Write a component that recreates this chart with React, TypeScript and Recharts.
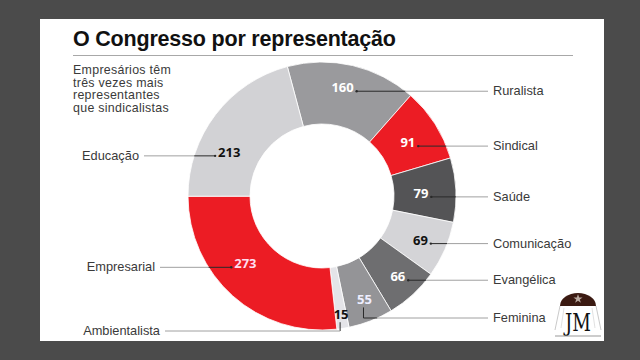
import { PieChart, Pie, Cell } from "recharts";

// Bancadas no Congresso (número de parlamentares)
const categories = [
  "Ruralista",
  "Sindical",
  "Saúde",
  "Comunicação",
  "Evangélica",
  "Feminina",
  "Ambientalista",
  "Empresarial",
  "Educação",
];
const members = [160, 91, 79, 69, 66, 55, 15, 273, 213];

const sliceColors = [
  "#9a9a9d",
  "#ec1c24",
  "#545456",
  "#d4d4d7",
  "#6e6e70",
  "#949497",
  "#e4e4e8",
  "#ec1c24",
  "#d2d2d5",
];
const valueColors = ["#fff", "#fff", "#fff", "#111", "#fff", "#eef", "#111", "#fde", "#111"];

const data = categories.map((name, i) => ({ name, value: members[i] }));

// where each annotation sits relative to its slice centre
type Note = { dx: number; dy: number; side: "left" | "right"; drop?: number; lineFrom?: number };
const notes: Record<string, Note> = {
  Ruralista: { dx: -3, dy: -8, side: "right" },
  Sindical: { dx: -1, dy: 2, side: "right" },
  Saúde: { dx: -4, dy: 2, side: "right" },
  Comunicação: { dx: 4, dy: 3, side: "right" },
  Evangélica: { dx: 6, dy: 5, side: "right" },
  Feminina: { dx: 5, dy: 8, side: "right", drop: 318 },
  Ambientalista: { dx: 3, dy: 17, side: "left", drop: 331, lineFrom: 165 },
  Empresarial: { dx: -8, dy: -9, side: "left", lineFrom: 160 },
  Educação: { dx: -11, dy: 19, side: "left", lineFrom: 144 },
};

const CX = 322;
const CY = 196;
const OUTER = 134;
const INNER = 72;
const RIGHT_END = 488;
const RADIAN = Math.PI / 180;
const DARK = "#2a2a2a";
const GREY = "#a0a0a0";
const labelFont = "'Liberation Sans', Arial, sans-serif";

// split a horizontal leader into the part inside the ring (dark) and outside (grey)
function hLine(x1: number, x2: number, y: number, key: string) {
  const a = Math.min(x1, x2);
  const b = Math.max(x1, x2);
  const dy = y - CY;
  if (Math.abs(dy) >= OUTER) {
    return <line key={key} x1={a} x2={b} y1={y} y2={y} stroke={GREY} strokeWidth={1} />;
  }
  const half = Math.sqrt(OUTER * OUTER - dy * dy);
  const l = CX - half;
  const r = CX + half;
  const segs: JSX.Element[] = [];
  const push = (s: number, e: number, c: string, k: string) => {
    if (e > s) segs.push(<line key={key + k} x1={s} x2={e} y1={y} y2={y} stroke={c} strokeWidth={1} />);
  };
  push(a, Math.min(b, l), GREY, "a");
  push(Math.max(a, l), Math.min(b, r), DARK, "b");
  push(Math.max(a, r), b, GREY, "c");
  return <g key={key}>{segs}</g>;
}

function renderNote(props: any) {
  const { cx, cy, midAngle, innerRadius, outerRadius, index } = props;
  const name = categories[index];
  const value = members[index];
  const n = notes[name];
  const r = (innerRadius + outerRadius) / 2;
  const x = cx + r * Math.cos(-midAngle * RADIAN) + n.dx;
  const y = cy + r * Math.sin(-midAngle * RADIAN) + n.dy;
  const base = y + 4.5;
  const halfW = (String(value).length * 7.4) / 2;
  const parts: JSX.Element[] = [];

  if (n.drop !== undefined) {
    const vx = x - 1;
    const inside = Math.hypot(vx - cx, base + 3 - cy) < outerRadius;
    parts.push(
      <line key="v" x1={vx} x2={vx} y1={base + 3} y2={n.drop} stroke={inside ? DARK : GREY} strokeWidth={1} />
    );
    if (n.side === "right") {
      parts.push(hLine(vx, RIGHT_END, n.drop, "h"));
      parts.push(
        <text key="t" x={RIGHT_END + 5} y={n.drop + 4} fontSize={12.8} fill="#3a3a3a" fontFamily={labelFont}>
          {name}
        </text>
      );
    } else {
      parts.push(hLine(n.lineFrom ?? 165, vx, n.drop, "h"));
      parts.push(
        <text key="t" x={(n.lineFrom ?? 165) - 5} y={n.drop + 4} fontSize={12.8} fill="#3a3a3a" textAnchor="end" fontFamily={labelFont}>
          {name}
        </text>
      );
    }
  } else if (n.side === "right") {
    const dot = x + halfW + 3;
    const ly = base - 1;
    parts.push(<circle key="d" cx={dot} cy={ly} r={1.2} fill={DARK} />);
    parts.push(hLine(dot, RIGHT_END, ly, "h"));
    parts.push(
      <text key="t" x={RIGHT_END + 5} y={ly + 4} fontSize={12.8} fill="#3a3a3a" fontFamily={labelFont}>
        {name}
      </text>
    );
  } else {
    const dot = x - halfW - 3;
    const ly = base - 1;
    const from = n.lineFrom ?? 160;
    parts.push(<circle key="d" cx={dot} cy={ly} r={1.2} fill={DARK} />);
    parts.push(hLine(from, dot, ly, "h"));
    parts.push(
      <text key="t" x={from - 5} y={ly + 4} fontSize={12.8} fill="#3a3a3a" textAnchor="end" fontFamily={labelFont}>
        {name}
      </text>
    );
  }

  return (
    <g key={`note-${index}`}>
      {parts}
      <text
        x={x}
        y={base}
        textAnchor="middle"
        fontSize={13}
        fontWeight={700}
        fill={valueColors[index]}
        fontFamily="'Open Sans', 'DejaVu Sans', sans-serif"
      >
        {value}
      </text>
    </g>
  );
}

export default function App() {
  return (
    <div style={{ position: "fixed", left: 0, top: 0, width: 640, height: 360, background: "#4b4b4b", overflow: "hidden" }}>
      <div style={{ position: "absolute", left: 40, top: 19, width: 564, height: 322, background: "#fff" }} />
      <div
        style={{
          position: "absolute",
          left: 73,
          top: 26,
          fontFamily: "'Liberation Sans', Arial, sans-serif",
          fontWeight: 700,
          fontSize: 21.5,
          lineHeight: "26px",
          color: "#111",
          whiteSpace: "nowrap",
          letterSpacing: -0.2,
        }}
      >
        O Congresso por representação
      </div>
      <div style={{ position: "absolute", left: 73, top: 55, width: 500, height: 1, background: "#a8a8a8" }} />
      <div
        style={{
          position: "absolute",
          left: 73,
          top: 64,
          fontFamily: labelFont,
          fontSize: 12.4,
          lineHeight: "12.6px",
          letterSpacing: 0.3,
          color: "#3a3a3a",
        }}
      >
        Empresários têm
        <br />
        três vezes mais
        <br />
        representantes
        <br />
        que sindicalistas
      </div>
      <div style={{ position: "absolute", left: 0, top: 0 }}>
        <PieChart width={640} height={360} margin={{ top: 0, right: 0, bottom: 0, left: 0 }}>
          <Pie
            data={data}
            dataKey="value"
            nameKey="name"
            cx={CX}
            cy={CY}
            innerRadius={INNER}
            outerRadius={OUTER}
            startAngle={105}
            endAngle={-255}
            stroke="#fff"
            strokeWidth={0.8}
            label={renderNote}
            labelLine={false}
            isAnimationActive={false}
          >
            {data.map((d, i) => (
              <Cell key={d.name} fill={sliceColors[i]} />
            ))}
          </Pie>
        </PieChart>
      </div>
      <svg style={{ position: "absolute", left: 550, top: 284 }} width={54} height={56}>
        <path d="M10 22 A18 13 0 0 1 46 22 Z" fill="#3b1a12" />
        <polygon points="28,10 29.2,13.4 32.6,13.4 29.8,15.4 30.9,18.8 28,16.7 25.1,18.8 26.2,15.4 23.4,13.4 26.8,13.4" fill="#b9a9a0" />
        <line x1={10} y1={22} x2={5} y2={46} stroke="#bbb" strokeWidth={0.8} />
        <line x1={46} y1={22} x2={51} y2={46} stroke="#bbb" strokeWidth={0.8} />
        <line x1={14} y1={24} x2={11} y2={44} stroke="#ccc" strokeWidth={0.6} />
        <line x1={42} y1={24} x2={45} y2={44} stroke="#ccc" strokeWidth={0.6} />
        <text x={28} y={47} textAnchor="middle" fontSize={24} fontFamily="'DejaVu Serif', serif" fill="#111" textLength={26} lengthAdjust="spacingAndGlyphs">
          JM
        </text>
        <line x1={5} y1={52} x2={51} y2={52} stroke="#999" strokeWidth={1} />
      </svg>
    </div>
  );
}
